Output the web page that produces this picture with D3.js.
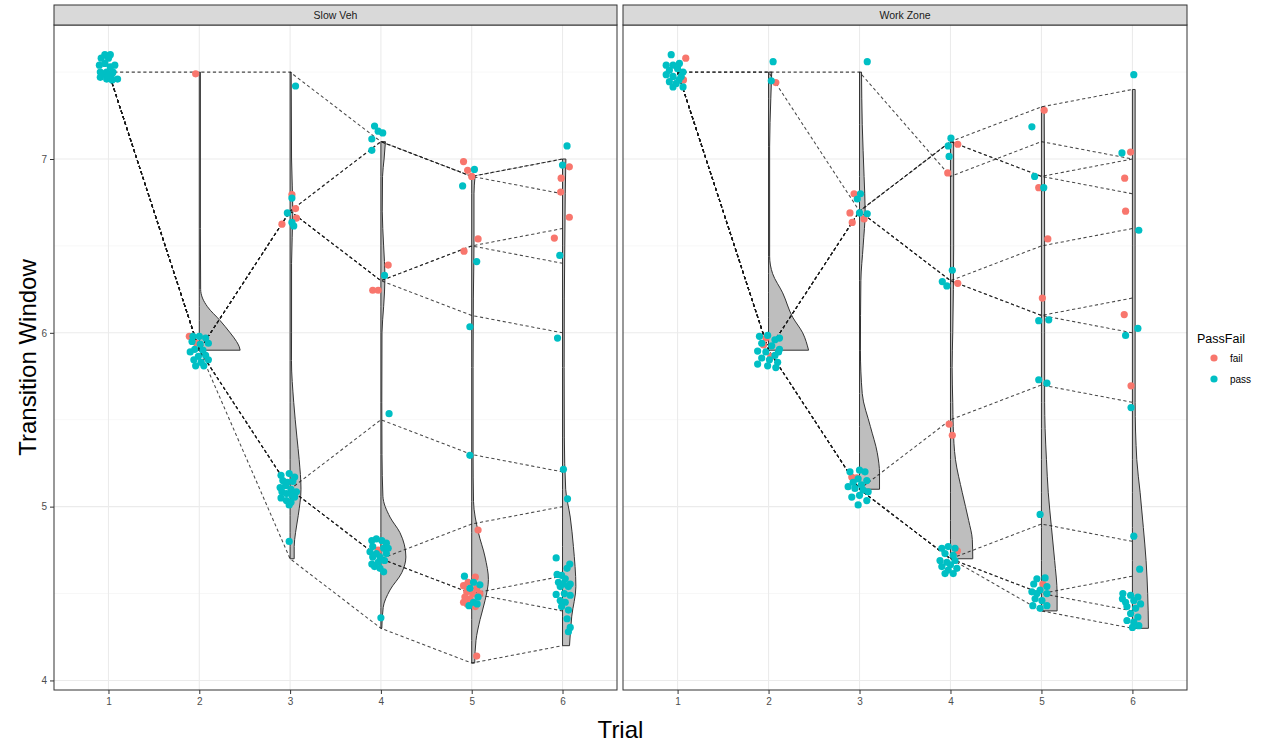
<!DOCTYPE html>
<html>
<head>
<meta charset="utf-8">
<script src="https://cdn.jsdelivr.net/npm/d3@7"></script>
<style>
  body { margin: 0; background: #fff; }
  svg { display: block; font-family: "Liberation Sans", Arial, sans-serif; }
</style>
</head>
<body>
<svg></svg>
<script>
// ---- data ----
const facets = ['Slow Veh', 'Work Zone'];
const trials = [1, 2, 3, 4, 5, 6];
const yTicks = [4, 5, 6, 7];
const yMinor = [4.5, 5.5, 6.5, 7.5];
const statuses = ['fail', 'pass'];

// staircase routes: transition window at trial 1..6
const slowPaths = [
    [7.5, 7.5, 7.5, 7.1, 6.9, 7.0],
    [7.5, 5.9, 6.7, 7.1, 6.9, 6.8],
    [7.5, 5.9, 6.7, 7.1, 6.9, 7.0],
    [7.5, 5.9, 6.7, 6.3, 6.5, 6.6],
    [7.5, 5.9, 6.7, 6.3, 6.5, 6.4],
    [7.5, 5.9, 6.7, 6.3, 6.1, 6.0],
    [7.5, 5.9, 5.1, 5.5, 5.3, 5.2],
    [7.5, 5.9, 5.1, 4.7, 4.9, 5.0],
    [7.5, 5.9, 5.1, 4.7, 4.5, 4.6],
    [7.5, 5.9, 5.1, 4.7, 4.5, 4.4],
    [7.5, 5.9, 4.7, 4.3, 4.1, 4.2]
];
const workPaths = [
    [7.5, 7.5, 7.5, 6.9, 7.1, 7.0],
    [7.5, 7.5, 6.7, 7.1, 7.3, 7.4],
    [7.5, 5.9, 6.7, 7.1, 6.9, 7.0],
    [7.5, 5.9, 6.7, 7.1, 6.9, 6.8],
    [7.5, 5.9, 6.7, 6.3, 6.5, 6.6],
    [7.5, 5.9, 6.7, 6.3, 6.1, 6.2],
    [7.5, 5.9, 6.7, 6.3, 6.1, 6.0],
    [7.5, 5.9, 5.1, 5.5, 5.7, 5.6],
    [7.5, 5.9, 5.1, 4.7, 4.9, 4.8],
    [7.5, 5.9, 5.1, 4.7, 4.5, 4.6],
    [7.5, 5.9, 5.1, 4.7, 4.5, 4.4],
    [7.5, 5.9, 5.1, 4.7, 4.4, 4.3]
];

// half violin outlines per trial: [value, half width in trial units]
const slowViolins = {
    2: [[7.5, 0.012], [6.6, 0.012], [6.25, 0.015], [6.2, 0.035], [6.15, 0.09], [6.07, 0.23], [6.0, 0.34], [5.95, 0.41], [5.92, 0.44], [5.9, 0.45]],
    3: [[7.5, 0.012], [7.0, 0.016], [6.7, 0.03], [6.4, 0.016], [6.0, 0.016], [5.84, 0.015], [5.6, 0.04], [5.4, 0.075], [5.27, 0.1], [5.1, 0.12], [4.95, 0.09], [4.85, 0.06], [4.77, 0.045], [4.7, 0.045]],
    4: [[7.1, 0.05], [7.0, 0.035], [6.9, 0.018], [6.7, 0.015], [6.5, 0.03], [6.32, 0.045], [6.15, 0.03], [6.0, 0.012], [5.6, 0.01], [5.3, 0.012], [5.06, 0.022], [4.94, 0.1], [4.85, 0.21], [4.71, 0.275], [4.62, 0.23], [4.52, 0.1], [4.42, 0.025], [4.3, 0.01]],
    5: [[6.9, 0.037], [6.8, 0.025], [6.5, 0.025], [6.2, 0.018], [5.8, 0.015], [5.3, 0.015], [5.03, 0.02], [4.85, 0.074], [4.71, 0.147], [4.58, 0.184], [4.46, 0.147], [4.35, 0.092], [4.23, 0.047], [4.1, 0.033]],
    6: [[7.0, 0.037], [6.8, 0.03], [6.5, 0.025], [6.2, 0.02], [5.8, 0.018], [5.4, 0.02], [5.1, 0.035], [4.94, 0.085], [4.77, 0.12], [4.54, 0.147], [4.37, 0.102], [4.2, 0.077]]
};
const workViolins = {
    2: [[7.5, 0.035], [7.35, 0.025], [7.07, 0.012], [6.44, 0.012], [6.34, 0.045], [6.23, 0.155], [6.09, 0.265], [6.0, 0.375], [5.9, 0.44]],
    3: [[7.5, 0.022], [7.2, 0.03], [6.9, 0.05], [6.7, 0.062], [6.5, 0.04], [6.3, 0.015], [5.9, 0.01], [5.65, 0.03], [5.46, 0.12], [5.31, 0.195], [5.19, 0.22], [5.1, 0.22]],
    4: [[7.1, 0.035], [6.5, 0.035], [6.0, 0.025], [5.8, 0.018], [5.6, 0.025], [5.46, 0.03], [5.27, 0.055], [5.08, 0.13], [4.92, 0.2], [4.81, 0.24], [4.7, 0.245]],
    5: [[7.3, 0.03], [6.5, 0.035], [6.0, 0.035], [5.6, 0.035], [5.45, 0.04], [5.27, 0.055], [5.08, 0.075], [4.88, 0.11], [4.69, 0.145], [4.5, 0.172], [4.4, 0.172]],
    6: [[7.4, 0.03], [6.5, 0.03], [5.6, 0.03], [5.27, 0.048], [5.08, 0.085], [4.88, 0.12], [4.69, 0.15], [4.5, 0.168], [4.3, 0.176]]
};

// jittered observations per trial: [offset in trial units, value]
const slowPass = {
    1: [[-0.04, 7.60], [0.02, 7.60], [-0.08, 7.58], [0, 7.58], [0.07, 7.54], [-0.10, 7.54], [-0.04, 7.55], [0.02, 7.53], [-0.09, 7.50], [-0.02, 7.50], [0.04, 7.49], [-0.09, 7.47], [-0.02, 7.46], [0.04, 7.455], [0.10, 7.46], [-0.06, 7.49], [0, 7.48], [0.05, 7.50]],
    2: [[-0.07, 5.98], [0, 5.98], [0.07, 5.97], [-0.08, 5.95], [0.01, 5.935], [0.10, 5.94], [-0.05, 5.905], [0.04, 5.90], [-0.10, 5.89], [-0.01, 5.865], [0.07, 5.87], [-0.06, 5.845], [0.02, 5.83], [0.10, 5.845], [-0.04, 5.81], [0.05, 5.81]],
    3: [[0.06, 7.42], [0.02, 6.775], [-0.03, 6.69], [0.02, 6.635], [0.04, 6.615], [-0.10, 5.18], [-0.01, 5.19], [0.05, 5.17], [-0.08, 5.15], [-0.03, 5.14], [0.03, 5.145], [-0.11, 5.11], [-0.05, 5.12], [0.01, 5.10], [0.07, 5.085], [-0.09, 5.085], [-0.04, 5.075], [0.02, 5.065], [-0.10, 5.05], [-0.04, 5.035], [0.01, 5.025], [-0.01, 5.01], [0.05, 5.055], [-0.01, 4.80]],
    4: [[-0.07, 7.19], [-0.03, 7.16], [0.02, 7.15], [-0.10, 7.115], [-0.10, 7.05], [0.04, 6.33], [0.09, 5.535], [-0.10, 4.805], [-0.05, 4.815], [0.01, 4.805], [0.06, 4.79], [-0.09, 4.77], [0.03, 4.76], [0.08, 4.76], [-0.12, 4.74], [-0.05, 4.73], [0.06, 4.73], [-0.09, 4.71], [-0.01, 4.71], [0.04, 4.69], [-0.10, 4.67], [-0.07, 4.655], [-0.01, 4.645], [0.03, 4.625], [-0.03, 4.68], [0, 4.36]],
    5: [[0.03, 6.94], [-0.10, 6.845], [0.055, 6.41], [-0.02, 6.035], [-0.02, 5.295], [-0.08, 4.60], [0.02, 4.565], [0.09, 4.55], [-0.02, 4.53], [0.07, 4.48], [-0.03, 4.43], [0.02, 4.45], [0.06, 4.44]],
    6: [[0.05, 7.075], [0, 6.965], [-0.03, 6.445], [-0.055, 5.97], [0.01, 5.215], [0.055, 5.045], [-0.07, 4.705], [0.08, 4.67], [0.05, 4.645], [-0.06, 4.61], [-0.01, 4.605], [0.03, 4.585], [0.085, 4.555], [-0.025, 4.54], [0.065, 4.54], [0.02, 4.50], [-0.07, 4.495], [0.085, 4.49], [-0.025, 4.46], [0.03, 4.45], [-0.01, 4.425], [0.065, 4.405], [0.05, 4.355], [0.085, 4.305], [0.065, 4.28], [-0.045, 4.565], [0.01, 4.555]]
};
const slowFail = {
    2: [[-0.04, 7.49], [-0.11, 5.98], [-0.03, 5.94]],
    3: [[0.02, 6.795], [0.06, 6.715], [0.07, 6.66], [-0.09, 6.625]],
    4: [[0.08, 6.39], [-0.09, 6.245], [-0.03, 6.245], [-0.03, 4.75]],
    5: [[-0.09, 6.985], [-0.045, 6.935], [0, 6.90], [0.07, 6.54], [-0.085, 6.47], [0.07, 4.865], [0.055, 4.14], [-0.09, 4.545], [-0.04, 4.565], [0.04, 4.595], [-0.055, 4.51], [0.01, 4.50], [0.09, 4.50], [-0.09, 4.45], [-0.02, 4.47], [0.04, 4.425], [-0.05, 4.44], [0.055, 4.53], [-0.075, 4.48]],
    6: [[0.075, 6.955], [-0.015, 6.89], [-0.02, 6.81], [0.075, 6.665], [-0.09, 6.545]]
};
const workPass = {
    1: [[-0.07, 7.60], [-0.125, 7.54], [-0.05, 7.54], [0.02, 7.55], [-0.09, 7.51], [0, 7.52], [0.06, 7.50], [-0.125, 7.485], [-0.05, 7.475], [0.04, 7.475], [-0.09, 7.445], [-0.015, 7.435], [0.06, 7.415], [-0.05, 7.415], [0.015, 7.455]],
    2: [[0.05, 7.56], [0.03, 7.45], [-0.10, 5.98], [-0.01, 5.985], [0.07, 5.96], [0.12, 5.97], [-0.075, 5.94], [0.035, 5.925], [0.12, 5.905], [-0.12, 5.895], [-0.03, 5.89], [0.07, 5.87], [0.11, 5.89], [-0.075, 5.855], [0.01, 5.845], [0.10, 5.83], [-0.12, 5.82], [-0.01, 5.81], [0.08, 5.80]],
    3: [[0.085, 7.56], [0.01, 6.80], [-0.025, 6.77], [0, 6.69], [0.085, 6.685], [-0.105, 5.20], [0, 5.21], [0.06, 5.20], [-0.015, 5.16], [0.08, 5.15], [-0.125, 5.115], [-0.05, 5.105], [0.02, 5.125], [0.095, 5.085], [-0.085, 5.055], [0, 5.065], [0.08, 5.035], [-0.015, 5.01], [0.04, 5.095], [-0.07, 5.14]],
    4: [[0.005, 7.12], [-0.025, 7.075], [-0.015, 7.015], [0.02, 6.36], [-0.09, 6.295], [-0.04, 6.27], [-0.095, 4.76], [-0.025, 4.77], [0.05, 4.76], [-0.06, 4.73], [0.03, 4.72], [-0.115, 4.69], [-0.04, 4.68], [0.05, 4.69], [-0.095, 4.655], [0, 4.665], [0.07, 4.645], [-0.06, 4.615], [0.03, 4.615], [-0.025, 4.635]],
    5: [[-0.105, 7.185], [-0.075, 6.90], [0.025, 6.835], [-0.03, 6.07], [0.08, 6.075], [-0.03, 5.73], [0.06, 5.71], [-0.015, 4.955], [-0.05, 4.585], [0.04, 4.59], [-0.085, 4.555], [0.06, 4.54], [-0.015, 4.52], [-0.105, 4.51], [0.06, 4.50], [-0.07, 4.47], [0.005, 4.46], [-0.095, 4.43], [-0.015, 4.415], [0.06, 4.43], [-0.05, 4.50]],
    6: [[0.015, 7.485], [-0.115, 7.035], [0.07, 6.59], [0.06, 6.025], [-0.075, 5.985], [-0.015, 5.57], [0.015, 4.83], [0.08, 4.64], [-0.105, 4.50], [-0.02, 4.49], [0.06, 4.48], [-0.075, 4.45], [0.015, 4.46], [0.09, 4.44], [-0.06, 4.425], [0.035, 4.415], [-0.02, 4.385], [0.06, 4.365], [0.015, 4.335], [-0.06, 4.345], [0.07, 4.315], [0, 4.305], [-0.11, 4.47]]
};
const workFail = {
    1: [[0.09, 7.58], [0.065, 7.455]],
    2: [[0.08, 7.44], [-0.055, 5.93], [-0.03, 5.97], [0.025, 5.865]],
    3: [[-0.06, 6.80], [-0.105, 6.69], [0.05, 6.655], [-0.08, 6.635], [-0.085, 5.17], [-0.03, 5.165]],
    4: [[0.08, 7.085], [-0.03, 6.92], [0.08, 6.285], [-0.015, 5.475], [0.02, 5.41], [0.075, 4.745]],
    5: [[0.03, 7.28], [-0.03, 6.835], [0.07, 6.54], [0.01, 6.20], [0.015, 4.555]],
    6: [[-0.02, 7.04], [-0.085, 6.89], [-0.075, 6.70], [-0.09, 6.105], [-0.015, 5.695]]
};

const facetData = {
    'Slow Veh': { paths: slowPaths, violins: slowViolins, fail: slowFail, pass: slowPass },
    'Work Zone': { paths: workPaths, violins: workViolins, fail: workFail, pass: workPass }
};

// ---- layout ----
const width = 1263, height = 744;
const stripTop = 5, panelTop = 25, panelBottom = 690;
const panelX = [[54, 617], [623, 1187]];
const colour = d3.scaleOrdinal().domain(statuses).range(['#F8766D', '#00BFC4']);

const svg = d3.select('svg').attr('width', width).attr('height', height);

const y = d3.scaleLinear().domain([3.945, 7.771]).range([panelBottom, panelTop]);

facets.forEach((facet, i) =>
{
    const data = facetData[facet];
    const [x0, x1] = panelX[i];
    const x = d3.scaleLinear().domain([0.4, 6.6]).range([x0, x1]);
    const g = svg.append('g');

    // grid
    g.selectAll('.minor').data(yMinor).join('line')
        .attr('x1', x0).attr('x2', x1)
        .attr('y1', d => y(d)).attr('y2', d => y(d))
        .attr('stroke', '#F2F2F2').attr('stroke-width', 0.6);
    g.selectAll('.major').data(yTicks).join('line')
        .attr('x1', x0).attr('x2', x1)
        .attr('y1', d => y(d)).attr('y2', d => y(d))
        .attr('stroke', '#EBEBEB').attr('stroke-width', 1.1);
    g.selectAll('.vgrid').data(trials).join('line')
        .attr('x1', d => x(d)).attr('x2', d => x(d))
        .attr('y1', panelTop).attr('y2', panelBottom)
        .attr('stroke', '#EBEBEB').attr('stroke-width', 1.1);

    // half violins
    Object.entries(data.violins).forEach(([t, prof]) =>
    {
        const trial = +t;
        const area = d3.area()
            .y(d => y(d[0]))
            .x0(x(trial))
            .x1(d => x(trial + d[1]))
            .curve(d3.curveMonotoneY);
        g.append('path')
            .attr('d', area(prof))
            .attr('fill', '#BEBEBE')
            .attr('stroke', '#333')
            .attr('stroke-width', 1);
    });

    // staircase routes (semi-transparent so shared stretches read darker)
    const line = d3.line()
        .x((d, k) => x(trials[k]))
        .y(d => y(d));
    g.selectAll('.route').data(data.paths).join('path')
        .attr('d', line)
        .attr('fill', 'none')
        .attr('stroke', '#1A1A1A')
        .attr('stroke-opacity', 0.8)
        .attr('stroke-width', 1.05)
        .attr('stroke-dasharray', '3.2,2.6');

    // points
    statuses.forEach(s =>
    {
        Object.entries(data[s]).forEach(([t, pts]) =>
        {
            g.selectAll(null).data(pts).join('circle')
                .attr('cx', d => x(+t + d[0]))
                .attr('cy', d => y(d[1]))
                .attr('r', 3.6)
                .attr('fill', colour(s));
        });
    });

    // panel border
    g.append('rect')
        .attr('x', x0).attr('y', panelTop)
        .attr('width', x1 - x0).attr('height', panelBottom - panelTop)
        .attr('fill', 'none').attr('stroke', '#333').attr('stroke-width', 1);

    // strip
    g.append('rect')
        .attr('x', x0).attr('y', stripTop)
        .attr('width', x1 - x0).attr('height', panelTop - stripTop)
        .attr('fill', '#D9D9D9').attr('stroke', '#333').attr('stroke-width', 1);
    g.append('text')
        .attr('x', (x0 + x1) / 2).attr('y', (stripTop + panelTop) / 2)
        .attr('text-anchor', 'middle').attr('dominant-baseline', 'central')
        .attr('font-size', 10.5).attr('fill', '#1A1A1A')
        .text(facet);

    // x axis
    const xAxis = g.append('g')
        .attr('transform', `translate(0,${panelBottom})`)
        .call(d3.axisBottom(x).tickValues(trials).tickSize(4).tickPadding(4).tickFormat(d3.format('d')));
    xAxis.select('.domain').remove();
    xAxis.selectAll('line').attr('stroke', '#333');
    xAxis.selectAll('text').attr('fill', '#4D4D4D').attr('font-size', 10).attr('font-family', null);

    if (i === 0)
    {
        const yAxis = g.append('g')
            .attr('transform', `translate(${x0},0)`)
            .call(d3.axisLeft(y).tickValues(yTicks).tickSize(4).tickPadding(3).tickFormat(d3.format('d')));
        yAxis.select('.domain').remove();
        yAxis.selectAll('line').attr('stroke', '#333');
        yAxis.selectAll('text').attr('fill', '#4D4D4D').attr('font-size', 10).attr('font-family', null);
    }
});

// axis titles
svg.append('text')
    .attr('x', (panelX[0][0] + panelX[1][1]) / 2).attr('y', 738)
    .attr('text-anchor', 'middle')
    .attr('font-size', 24).attr('fill', '#000')
    .text('Trial');
svg.append('text')
    .attr('transform', `translate(36,${(panelTop + panelBottom) / 2}) rotate(-90)`)
    .attr('text-anchor', 'middle')
    .attr('font-size', 24).attr('fill', '#000')
    .text('Transition Window');

// legend
const legend = svg.append('g').attr('transform', 'translate(1197,0)');
legend.append('text')
    .attr('x', 0).attr('y', 343)
    .attr('font-size', 12.5).attr('fill', '#000')
    .text('PassFail');
legend.selectAll('.key').data(statuses).join('circle')
    .attr('cx', 17).attr('cy', (d, k) => 358 + k * 21)
    .attr('r', 3.6).attr('fill', d => colour(d));
legend.selectAll('.lab').data(statuses).join('text')
    .attr('x', 33).attr('y', (d, k) => 358 + k * 21)
    .attr('dominant-baseline', 'central')
    .attr('font-size', 10).attr('fill', '#000')
    .text(d => d);
</script>
</body>
</html>
